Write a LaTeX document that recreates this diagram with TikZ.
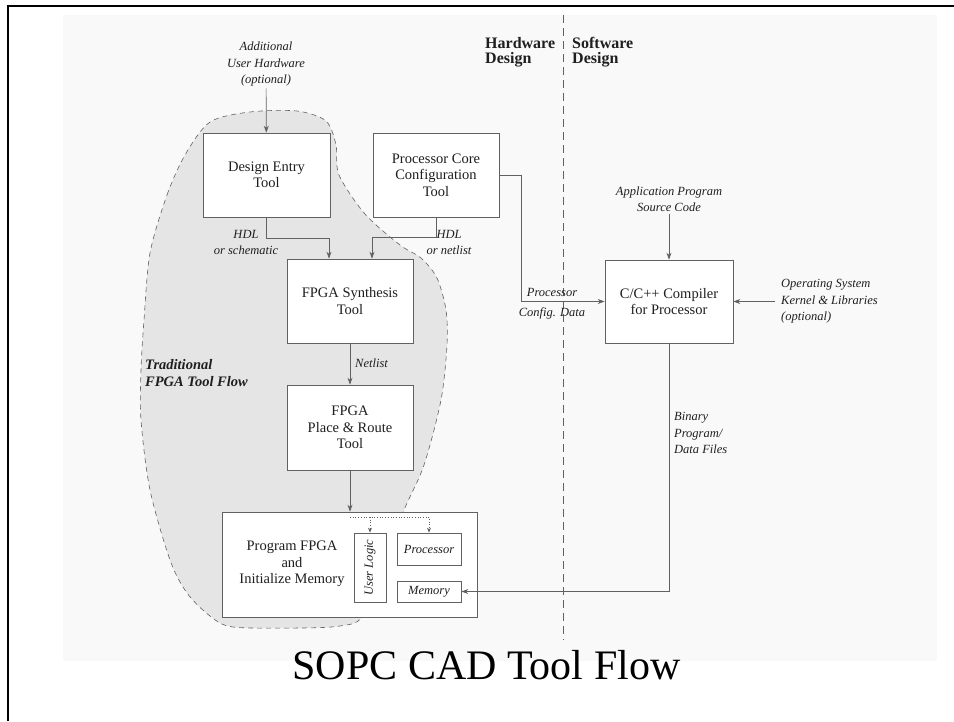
\documentclass[tikz,border=0pt]{standalone}
\usepackage{fontspec}
\setmainfont{Liberation Serif}
\usetikzlibrary{arrows.meta}
\definecolor{scanbg}{gray}{0.976}
\definecolor{blobgray}{gray}{0.9}
\definecolor{linegray}{gray}{0.38}
\definecolor{inkgray}{gray}{0.12}
\newcommand{\boxfont}{\fontsize{14.5}{16.5}\selectfont}
\newcommand{\lblfont}{\fontsize{12.5}{16.5}\selectfont\itshape}

\begin{document}
\begin{tikzpicture}[x=1pt,y=-1pt,
  tool/.style={draw=linegray,fill=white,line width=0.7pt,align=center,font=\boxfont,text=inkgray,inner sep=0pt},
  lbl/.style={align=center,font=\lblfont,text=inkgray,inner sep=2pt},
  flow/.style={draw=linegray,line width=0.7pt,-{Stealth[length=7pt,width=5pt]}},
  dotflow/.style={draw=linegray,line width=0.7pt,dotted,-{Stealth[length=5pt,width=4pt]}}]
  \useasboundingbox (0,0) rectangle (954,721);
  % slide frame and scanned page
  \fill[white] (0,0) rectangle (954,721);
  \draw[line width=2.5pt] (8,721) -- (8,6) -- (954,6);
  \fill[scanbg] (63,15) rectangle (937,661);
  % traditional tool flow region
  \fill[blobgray] plot[smooth cycle,tension=0.5] coordinates {(150,253) (167,195) (185,155) (210,122) (250,112) (297,111) (326,121) (336,145) (339,175) (365,214) (400,245) (421,258) (437,278) (446,310) (447,345) (441,400) (424,465) (404,510) (380,570) (362,617) (340,626) (300,628) (233,627) (210,616) (187,593) (170,560) (150,490) (141,420) (141,370) (144,320)};
  \draw[linegray,line width=0.6pt,dash pattern=on 5pt off 4pt] plot[smooth cycle,tension=0.5] coordinates {(150,253) (167,195) (185,155) (210,122) (250,112) (297,111) (326,121) (336,145) (339,175) (365,214) (400,245) (421,258) (437,278) (446,310) (447,345) (441,400) (424,465) (404,510) (380,570) (362,617) (340,626) (300,628) (233,627) (210,616) (187,593) (170,560) (150,490) (141,420) (141,370) (144,320)};
  % hardware / software divide
  \draw[linegray,line width=0.8pt,dash pattern=on 8pt off 5pt] (563,15) -- (563,640);
  \node[anchor=west,align=left,font=\fontsize{16}{15.5}\selectfont\bfseries,text=inkgray,inner sep=0pt] (hw) at (485,52) {Hardware\\Design};
  \node[anchor=west,align=left,font=\fontsize{16}{15.5}\selectfont\bfseries,text=inkgray,inner sep=0pt] (sw) at (572,52) {Software\\Design};
  % tools
  \node[tool,minimum width=127pt,minimum height=84pt] (entry) at (266.5,175) {Design Entry\\Tool};
  \node[tool,minimum width=126pt,minimum height=84pt] (core) at (436,175) {Processor Core\\Configuration\\Tool};
  \node[tool,minimum width=126pt,minimum height=84pt] (synth) at (350,301) {FPGA Synthesis\\Tool};
  \node[tool,minimum width=126pt,minimum height=85pt] (pnr) at (350,427.5) {FPGA\\Place \& Route\\Tool};
  \node[tool,minimum width=255pt,minimum height=105pt] (prog) at (349.5,564.5) {};
  \node[align=center,font=\boxfont,text=inkgray,inner sep=0pt] (progtxt) at (292,564) {Program FPGA\\and\\Initialize Memory};
  \node[tool,minimum width=32pt,minimum height=69pt,font=\lblfont] (ulogic) at (370,567.5) {\rotatebox{90}{User Logic}};
  \node[tool,minimum width=64pt,minimum height=32pt,font=\lblfont] (cpu) at (429,549) {Processor};
  \node[tool,minimum width=64pt,minimum height=21pt,font=\lblfont] (mem) at (429,591.5) {Memory};
  \node[tool,minimum width=128pt,minimum height=83pt] (comp) at (669,301.5) {C/C++ Compiler\\for Processor};
  % labels
  \node[lbl] (addhw) at (266,64) {Additional\\User Hardware\\(optional)};
  \node[lbl] (hdlsch) at (246,242.5) {HDL\\or schematic};
  \node[lbl] (hdlnet) at (449,242.5) {HDL\\or netlist};
  \node[lbl] (cfgtop) at (552,292) {Processor};
  \node[lbl] (cfgbot) at (552,313) {Config. Data};
  \node[lbl] (appsrc) at (669,199) {Application Program\\Source Code};
  \node[lbl,anchor=west,align=left] (ossrc) at (779,301.5) {Operating System\\Kernel \& Libraries\\(optional)};
  \node[lbl,anchor=west,align=left] (binfiles) at (672,433) {Binary\\Program/\\Data Files};
  \node[lbl,anchor=west] (netlist) at (353,363) {Netlist};
  \node[lbl,anchor=west,align=left,font=\fontsize{14.5}{16.5}\selectfont\bfseries\itshape] (trad) at (143,373) {Traditional\\FPGA Tool Flow};
  % connectors
  \draw[flow] (addhw) -- (entry);
  \draw[flow] (entry.south) -- ++(0,21) -| ([xshift=-21pt]synth.north);
  \draw[flow] (core.south) -- ++(0,20) -| ([xshift=22pt]synth.north);
  \draw[flow] (core.east) -- ++(22,0) |- (comp.west);
  \draw[flow] (appsrc) -- (comp);
  \draw[flow] ([xshift=-4pt]ossrc.west) -- (comp.east);
  \draw[flow] (synth) -- (pnr);
  \draw[flow] (pnr) -- (pnr |- prog.north);
  \draw[flow] (comp.south) |- (mem.east);
  % dotted split into user logic and processor
  \coordinate (split) at (350,517);
  \draw[dotflow] (split) -| (cpu.north);
  \draw[dotflow] (split -| ulogic.north) -- (ulogic.north);
  % title
  \node[anchor=base,font=\fontsize{42}{42}\selectfont,inner sep=0pt] (title) at (486.5,679) {SOPC CAD Tool Flow};
\end{tikzpicture}
\end{document}
